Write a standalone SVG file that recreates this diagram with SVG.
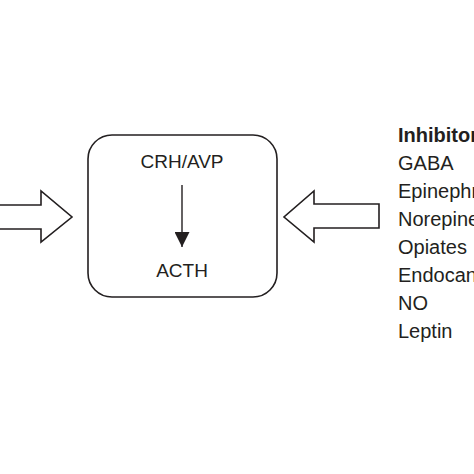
<svg xmlns="http://www.w3.org/2000/svg" width="474" height="474" viewBox="0 0 474 474">
<defs>
<style>
.t{font-family:"Liberation Sans","DejaVu Sans",sans-serif;font-size:19px;fill:#231f20}
.r{font-size:20px}
.b{font-weight:bold}
.s{fill:#fff;stroke:#231f20;stroke-width:1.6;stroke-linejoin:miter}
</style>
<marker id="ah" viewBox="0 0 10 10" refX="10" refY="5" markerWidth="15" markerHeight="15" markerUnits="userSpaceOnUse" orient="auto">
<path d="M0,0 L10,5 L0,10 Z" fill="#231f20"/>
</marker>
</defs>
<rect width="474" height="474" fill="#fff"/>
<g id="box">
<rect class="s" x="88" y="135" width="189" height="162" rx="24" ry="24"/>
<text class="t" x="182" y="168" text-anchor="middle">CRH/AVP</text>
<text class="t" x="182" y="277" text-anchor="middle">ACTH</text>
</g>
<g id="inhibitory">
<text class="t r b" x="398" y="142">Inhibitory</text>
<text class="t r" x="398" y="170">GABA</text>
<text class="t r" x="398" y="198">Epinephrine</text>
<text class="t r" x="398" y="226">Norepinephrine</text>
<text class="t r" x="398" y="254">Opiates</text>
<text class="t r" x="398" y="282">Endocannabinoids</text>
<text class="t r" x="398" y="310">NO</text>
<text class="t r" x="398" y="338">Leptin</text>
</g>
<g id="connectors">
<path class="s" d="M-5,205 L41,205 L41,191 L72,217 L41,242 L41,229 L-5,229 Z"/>
<path class="s" d="M379,204 L314,204 L314,191 L284,217 L314,242 L314,228 L379,228 Z"/>
<line x1="182" y1="185" x2="182" y2="247" stroke="#231f20" stroke-width="1.4" marker-end="url(#ah)"/>
</g>
</svg>
